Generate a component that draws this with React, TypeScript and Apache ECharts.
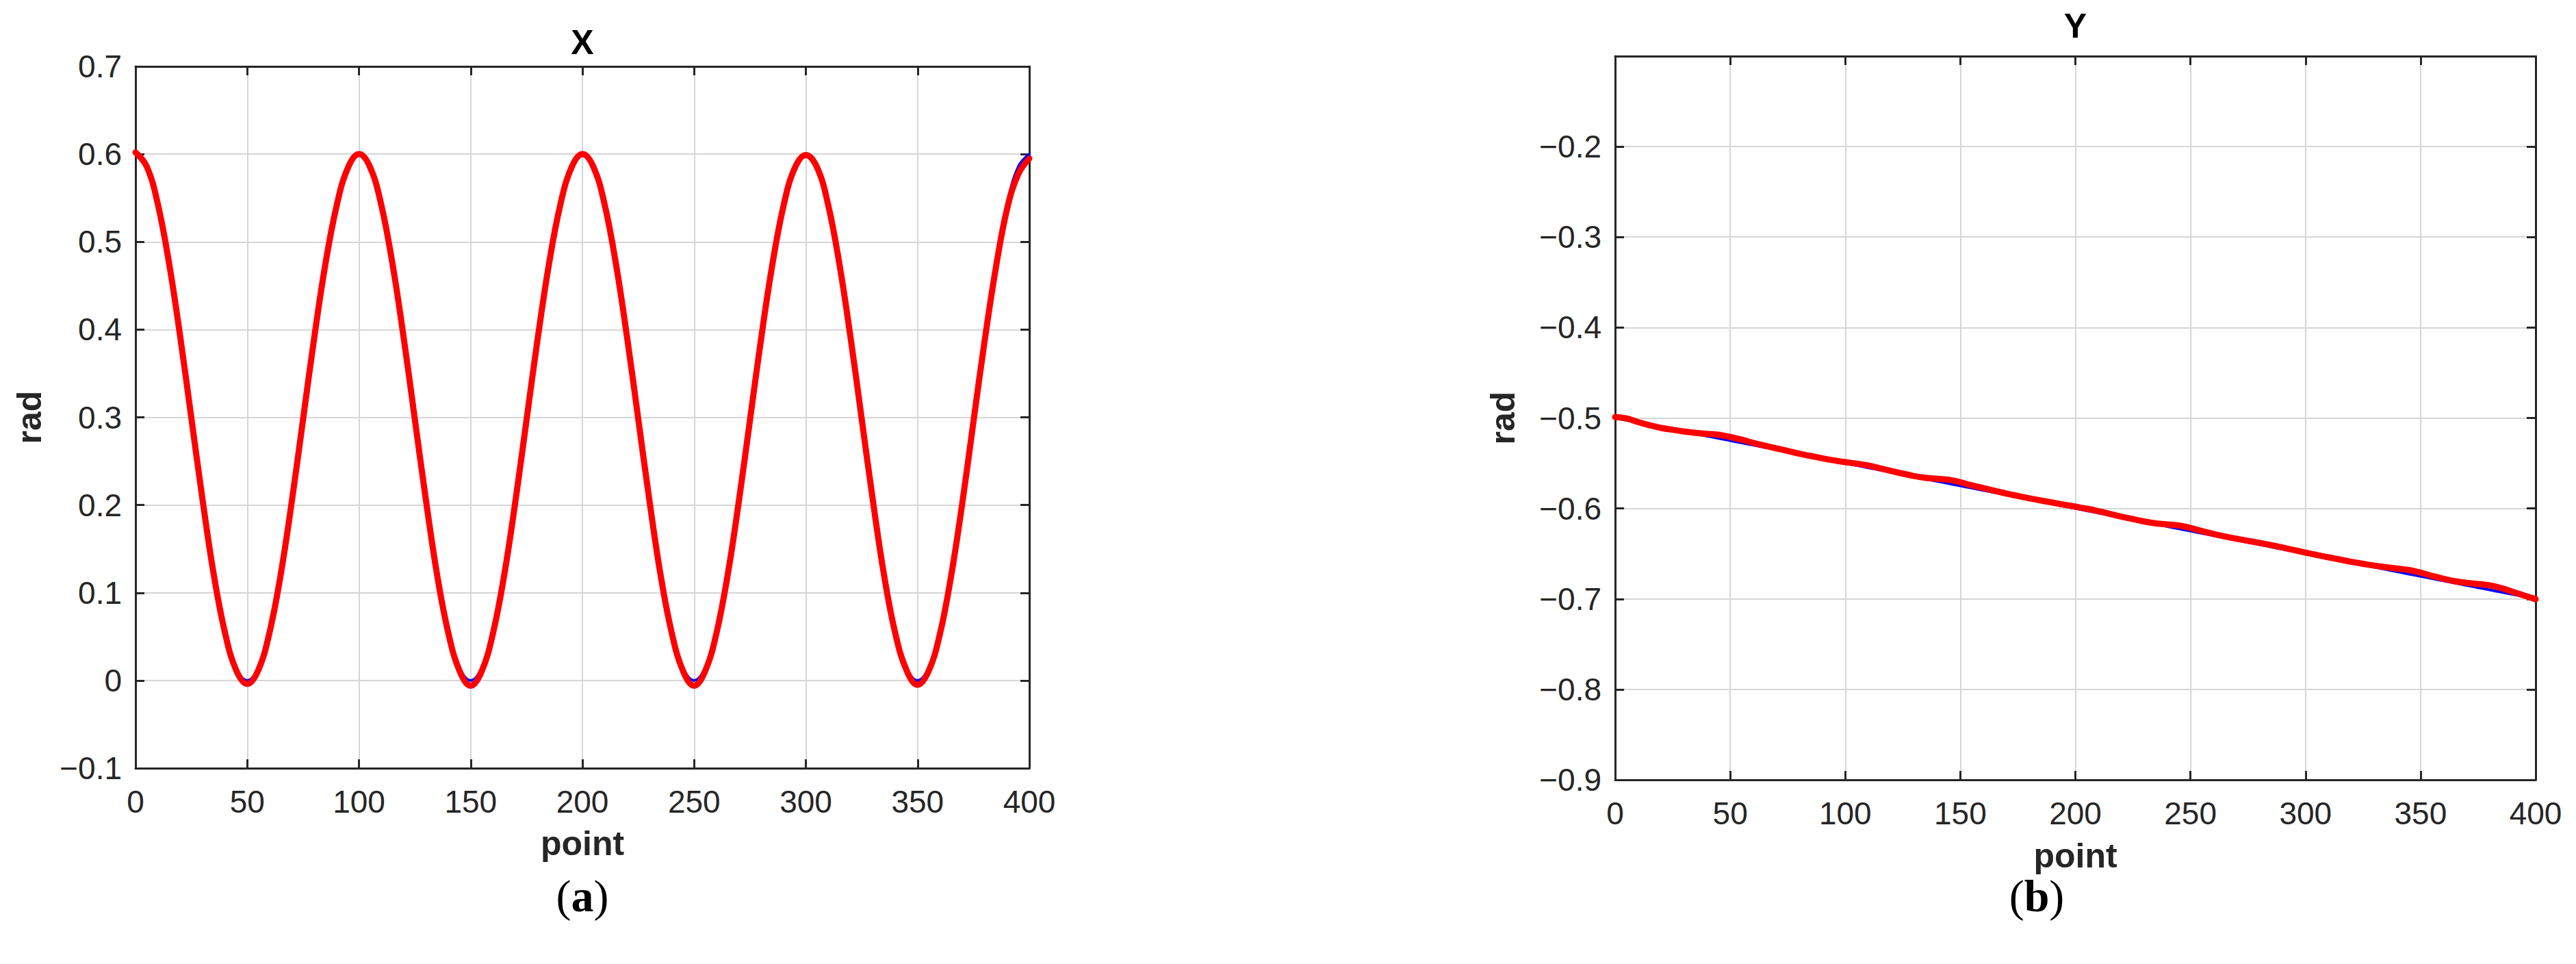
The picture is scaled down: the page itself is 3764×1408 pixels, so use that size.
import React, { useEffect, useRef } from "react";
import * as echarts from "echarts";

// sample index (x axis) shared by all series
const points = [
  0, 5, 10, 15, 20, 25, 30, 35, 40, 45, 50, 55, 60, 65, 70, 75, 80, 85, 90, 95,
  100, 105, 110, 115, 120, 125, 130, 135, 140, 145, 150, 155, 160, 165, 170, 175, 180, 185, 190, 195,
  200, 205, 210, 215, 220, 225, 230, 235, 240, 245, 250, 255, 260, 265, 270, 275, 280, 285, 290, 295,
  300, 305, 310, 315, 320, 325, 330, 335, 340, 345, 350, 355, 360, 365, 370, 375, 380, 385, 390, 395,
  400,
];

// (a) X — blue reference
const xBlue = [
  0.6, 0.5853, 0.5427, 0.4763, 0.3927, 0.3, 0.2073, 0.1237, 0.0573, 0.0147, 0.0, 0.0147, 0.0573, 0.1237, 0.2073, 0.3, 0.3927, 0.4763, 0.5427, 0.5853,
  0.6, 0.5853, 0.5427, 0.4763, 0.3927, 0.3, 0.2073, 0.1237, 0.0573, 0.0147, 0.0, 0.0147, 0.0573, 0.1237, 0.2073, 0.3, 0.3927, 0.4763, 0.5427, 0.5853,
  0.6, 0.5853, 0.5427, 0.4763, 0.3927, 0.3, 0.2073, 0.1237, 0.0573, 0.0147, 0.0, 0.0147, 0.0573, 0.1237, 0.2073, 0.3, 0.3927, 0.4763, 0.5427, 0.5853,
  0.6, 0.5853, 0.5427, 0.4763, 0.3927, 0.3, 0.2073, 0.1237, 0.0573, 0.0147, 0.0, 0.0147, 0.0573, 0.1237, 0.2073, 0.3, 0.3927, 0.4763, 0.5427, 0.5853,
  0.6,
];

// (a) X — red estimate
const xRed = [
  0.602, 0.586, 0.543, 0.476, 0.392, 0.299, 0.206, 0.121, 0.055, 0.012, -0.004, 0.012, 0.055, 0.121, 0.205, 0.298, 0.391, 0.475, 0.541, 0.584,
  0.6, 0.585, 0.542, 0.475, 0.391, 0.298, 0.205, 0.12, 0.054, 0.011, -0.006, 0.011, 0.054, 0.12, 0.204, 0.297, 0.39, 0.474, 0.541, 0.584,
  0.6, 0.585, 0.542, 0.475, 0.391, 0.298, 0.205, 0.12, 0.054, 0.011, -0.006, 0.011, 0.054, 0.12, 0.204, 0.297, 0.39, 0.474, 0.541, 0.584,
  0.599, 0.585, 0.542, 0.475, 0.391, 0.298, 0.205, 0.12, 0.054, 0.012, -0.005, 0.011, 0.053, 0.119, 0.202, 0.295, 0.387, 0.47, 0.537, 0.577,
  0.595,
];

// (b) Y — blue reference
const yBlue = [
  -0.5, -0.5025, -0.505, -0.5075, -0.51, -0.5125, -0.515, -0.5175, -0.52, -0.5225,
  -0.525, -0.5275, -0.53, -0.5325, -0.535, -0.5375, -0.54, -0.5425, -0.545, -0.5475,
  -0.55, -0.5525, -0.555, -0.5575, -0.56, -0.5625, -0.565, -0.5675, -0.57, -0.5725,
  -0.575, -0.5775, -0.58, -0.5825, -0.585, -0.5875, -0.59, -0.5925, -0.595, -0.5975,
  -0.6, -0.6025, -0.605, -0.6075, -0.61, -0.6125, -0.615, -0.6175, -0.62, -0.6225,
  -0.625, -0.6275, -0.63, -0.6325, -0.635, -0.6375, -0.64, -0.6425, -0.645, -0.6475,
  -0.65, -0.6525, -0.655, -0.6575, -0.66, -0.6625, -0.665, -0.6675, -0.67, -0.6725,
  -0.675, -0.6775, -0.68, -0.6825, -0.685, -0.6875, -0.69, -0.6925, -0.695, -0.6975,
  -0.7,
];

// (b) Y — red estimate
const yRed = [
  -0.499, -0.5005, -0.5045, -0.508, -0.511, -0.513, -0.515, -0.5165, -0.5175, -0.5185,
  -0.521, -0.524, -0.5275, -0.5305, -0.5335, -0.5365, -0.5395, -0.542, -0.5445, -0.5468,
  -0.5488, -0.5505, -0.5525, -0.5555, -0.5585, -0.5615, -0.5642, -0.5662, -0.5672, -0.5682,
  -0.571, -0.5745, -0.5775, -0.5805, -0.5835, -0.5862, -0.5888, -0.5912, -0.5935, -0.5958,
  -0.598, -0.6003, -0.603, -0.606, -0.609, -0.6118, -0.6145, -0.6165, -0.6177, -0.6188,
  -0.6215, -0.625, -0.6282, -0.631, -0.6335, -0.6358, -0.638, -0.6405, -0.6432, -0.646,
  -0.6488, -0.6515, -0.654, -0.6565, -0.659, -0.6612, -0.6632, -0.665, -0.6665, -0.668,
  -0.671, -0.6745, -0.6778, -0.6805, -0.6822, -0.6835, -0.685, -0.688, -0.692, -0.6962,
  -0.7003,
];

const titles = ["X", "Y"];
const xName = "point";
const yName = "rad";
const panelLabels = ["a", "b"];

const INK = "#262626";
const FONT = '"Liberation Sans", Arial, sans-serif';

function fmt(v: number, hideTop?: number) {
  if (hideTop !== undefined && Math.abs(v - hideTop) < 1e-9) return "";
  if (Math.abs(v) < 1e-9) return "0";
  const s = Math.abs(v).toFixed(1);
  return (v < 0 ? "\u2212" : "") + s;
}

export default function App() {
  const ref = useRef<HTMLDivElement>(null);

  useEffect(() => {
    if (!ref.current) return;
    const chart = echarts.init(ref.current, undefined, { renderer: "svg" });

    const grids = [
      { left: 198, top: 97, width: 1306, height: 1025 },
      { left: 2360, top: 82, width: 1345, height: 1057 },
    ];
    const yRanges = [
      { min: -0.1, max: 0.7, hide: undefined as number | undefined },
      { min: -0.9, max: -0.1, hide: -0.1 },
    ];

    const xAxes: any[] = [];
    const yAxes: any[] = [];
    grids.forEach((g, i) => {
      const base = {
        type: "value",
        gridIndex: i,
        min: 0,
        max: 400,
        interval: 50,
        axisLine: { show: true, onZero: false, lineStyle: { color: INK, width: 3 } },
        axisTick: { show: true, inside: true, length: 13, lineStyle: { color: INK, width: 3 } },
      };
      xAxes.push({
        ...base,
        position: "bottom",
        axisLabel: { show: true, color: INK, fontSize: 46, fontFamily: FONT, margin: 26 },
        splitLine: { show: true, lineStyle: { color: "#d6d6d6", width: 2 } },
      });
      xAxes.push({
        ...base,
        position: "top",
        axisLabel: { show: false },
        splitLine: { show: false },
      });
      const r = yRanges[i];
      const ybase = {
        type: "value",
        gridIndex: i,
        min: r.min,
        max: r.max,
        interval: 0.1,
        axisLine: { show: true, onZero: false, lineStyle: { color: INK, width: 3 } },
        axisTick: { show: true, inside: true, length: 13, lineStyle: { color: INK, width: 3 } },
      };
      yAxes.push({
        ...ybase,
        position: "left",
        axisLabel: {
          show: true,
          color: INK,
          fontSize: 46,
          fontFamily: FONT,
          margin: 20,
          formatter: (v: number) => fmt(v, r.hide),
        },
        splitLine: { show: true, lineStyle: { color: "#d6d6d6", width: 2 } },
      });
      yAxes.push({
        ...ybase,
        position: "right",
        axisLabel: { show: false },
        splitLine: { show: false },
      });
    });

    const pair = (arr: number[]) => points.map((p, k) => [p, arr[k]]);
    const line = (i: number, data: number[], color: string, width: number) => ({
      type: "line",
      xAxisIndex: i * 2,
      yAxisIndex: i * 2,
      data: pair(data),
      showSymbol: false,
      symbol: "none",
      smooth: 0.4,
      lineStyle: { color, width, cap: "round", join: "round" },
      silent: true,
    });

    const centers = grids.map((g) => g.left + g.width / 2);
    const graphic: any[] = [];
    const titleY = [62, 38];
    const pointY = [1232, 1250];
    const radX = [43, 2196];
    const panelX = [centers[0], 2976];
    grids.forEach((g, i) => {
      graphic.push({
        type: "text",
        x: centers[i],
        y: titleY[i],
        style: { text: titles[i], font: `bold 50px ${FONT}`, fill: "#000", align: "center", verticalAlign: "middle" },
      });
      graphic.push({
        type: "text",
        x: centers[i],
        y: pointY[i],
        style: { text: xName, font: `bold 50px ${FONT}`, fill: INK, align: "center", verticalAlign: "middle" },
      });
      graphic.push({
        type: "text",
        x: radX[i],
        y: g.top + g.height / 2,
        rotation: Math.PI / 2,
        style: { text: yName, font: `bold 50px ${FONT}`, fill: INK, align: "center", verticalAlign: "middle" },
      });
      graphic.push({
        type: "text",
        x: panelX[i],
        y: 1308,
        style: {
          text: `{n|(}{b|${panelLabels[i]}}{n|)}`,
          align: "center",
          verticalAlign: "middle",
          rich: {
            n: { font: '66px "Liberation Serif", serif', fill: "#000" },
            b: { font: 'bold 66px "Liberation Serif", serif', fill: "#000" },
          },
        },
      });
    });

    chart.setOption({
      animation: false,
      backgroundColor: "#fff",
      grid: grids,
      xAxis: xAxes,
      yAxis: yAxes,
      series: [
        line(0, xBlue, "#0000ff", 4),
        line(0, xRed, "#ff0000", 9),
        line(1, yBlue, "#0000ff", 4),
        line(1, yRed, "#ff0000", 9),
      ],
      graphic,
    });

    return () => chart.dispose();
  }, []);

  return (
    <div
      ref={ref}
      style={{ position: "absolute", left: 0, top: 0, width: 3764, height: 1408, background: "#fff" }}
    />
  );
}
